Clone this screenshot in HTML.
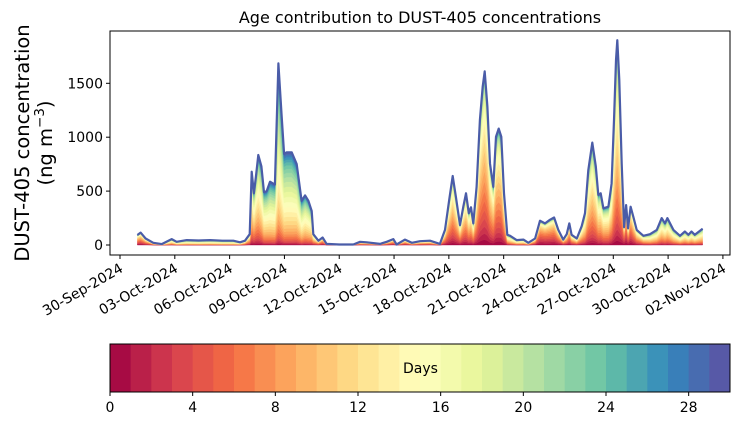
<!DOCTYPE html>
<html><head><meta charset="utf-8"><style>
body{margin:0;background:#fff;width:739px;height:425px;overflow:hidden}
svg text{font-family:"DejaVu Sans","Liberation Sans",sans-serif;fill:#000}
</style></head><body>
<svg id="chart" width="739" height="425" viewBox="0 0 739 425" xmlns="http://www.w3.org/2000/svg">
<text x="420" y="23" font-size="16" text-anchor="middle">Age contribution to DUST-405 concentrations</text>
<g>
<text x="29" y="143" font-size="19.5" text-anchor="middle" transform="rotate(-90 29 143)">DUST-405 concentration</text>
<text x="52" y="143" font-size="19.5" text-anchor="middle" transform="rotate(-90 52 143)">(ng m<tspan baseline-shift="super" font-size="13.5">−3</tspan>)</text>
</g>
<g id="layers"></g>
<g id="axes"></g>
<g id="cbar"></g>
</svg>
<script>
// time in days since 30-Sep-2024 00:00
const times = [0.95,1.13,1.40,1.82,2.28,2.83,3.10,3.65,4.30,4.93,5.60,6.20,6.57,6.84,7.10,7.21,7.33,7.44,7.57,7.74,7.88,8.03,8.21,8.48,8.67,8.85,8.98,9.12,9.40,9.67,9.94,10.13,10.31,10.49,10.58,10.86,11.09,11.31,12.00,12.77,13.14,13.50,14.23,14.60,14.96,15.14,15.60,15.97,16.42,16.97,17.51,17.79,18.02,18.21,18.39,18.61,18.79,18.94,19.09,19.21,19.34,19.52,19.70,19.85,19.96,20.11,20.25,20.43,20.58,20.73,20.87,21.02,21.20,21.35,21.71,22.08,22.35,22.72,22.99,23.26,23.54,23.76,23.99,24.26,24.45,24.59,24.72,25.00,25.27,25.45,25.63,25.85,26.04,26.18,26.31,26.46,26.73,26.91,27.04,27.15,27.22,27.33,27.46,27.59,27.70,27.81,27.95,28.10,28.28,28.65,29.01,29.38,29.65,29.83,29.96,30.29,30.65,30.92,31.11,31.28,31.46,31.89];
const totals = [93,115,60,20,8,55,30,45,42,45,40,40,25,40,100,680,480,634,835,730,490,500,587,560,1685,1190,845,860,860,750,410,460,410,315,100,40,70,10,5,5,30,25,10,30,55,5,50,20,35,40,10,140,418,640,440,185,355,480,295,350,200,540,1160,1470,1610,1285,755,540,1005,1080,1005,480,95,85,45,50,20,60,225,200,235,255,140,50,100,200,95,60,175,295,695,950,730,465,480,340,355,570,1160,1715,1900,1530,755,165,370,155,355,260,140,85,100,140,250,200,250,140,85,125,95,125,95,150];
const meanAge = [6,6,7,10,12,13,14,15,15,15,15,15,13,10,9,12,12,12,13,14,15,15,16,16,17,17,17,17,17,16,16,15,15,14,10,8,6,6,8,8,8,8,7,7,6,6,7,8,8,8,8,8,9,9,9,8,8,9,9,9,9,9,9,9,9,9,9,9,9,9,9,9,11,12,12,12,10,6,4,4,5,5,5,6,7,7,8,9,10,11,11,11,11,11,11,11,11,11,11,11,11,11,9,4,4,5,5,7,8,10,12,12,12,12,12,12,12,12,12,12,12,12];
const yTicks = [0,500,1000,1500];
const xTickDays = [0,3,6,9,12,15,18,21,24,27,30,33];
const xTickLabels = ["30-Sep-2024","03-Oct-2024","06-Oct-2024","09-Oct-2024","12-Oct-2024","15-Oct-2024","18-Oct-2024","21-Oct-2024","24-Oct-2024","27-Oct-2024","30-Oct-2024","02-Nov-2024"];
const cbTicks = [0,4,8,12,16,20,24,28];

const NS="http://www.w3.org/2000/svg";
const PL=110,PR=730,PT=31,PB=255;
const X=d=>120+d*18.27;
const Y=v=>245-v*0.1078;
const stops=["#9e0142","#d53e4f","#f46d43","#fdae61","#fee08b","#ffffbf","#e6f598","#abdda4","#66c2a5","#3288bd","#5e4fa2"];
function hex(h){return [1,3,5].map(i=>parseInt(h.substr(i,2),16));}
function spectral(t){const p=t*10,i=Math.min(9,Math.floor(p)),f=p-i;const a=hex(stops[i]),b=hex(stops[i+1]);return "rgb("+a.map((c,k)=>Math.round(c+(b[k]-c)*f)).join(",")+")";}
function mk(tag,attrs,parent){const e=document.createElementNS(NS,tag);for(const k in attrs)e.setAttribute(k,attrs[k]);parent.appendChild(e);return e;}
const NB=30;
const fr=totals.map((t,i)=>{const m=meanAge[i];const w=[];let s=0;for(let k=0;k<NB;k++){const z=(k+0.5-m)/7;const v=Math.exp(-z*z/2)+0.08;w.push(v);s+=v;}return w.map(v=>v/s);});
const layers=document.getElementById('layers');
let cum=totals.map(()=>0);
for(let k=0;k<NB;k++){
  const low=cum.slice();const up=cum.map((c,i)=>c+totals[i]*fr[i][k]);
  let d="M"+times.map((t,i)=>X(t).toFixed(1)+","+Y(up[i]).toFixed(1)).join("L");
  for(let i=times.length-1;i>=0;i--)d+="L"+X(times[i]).toFixed(1)+","+Y(low[i]).toFixed(1);
  const p=mk('path',{d:d+"Z",fill:spectral((k+0.5)/NB),stroke:spectral((k+0.5)/NB),'stroke-width':0.4},layers);
  
  
  cum=up;
}
const line=mk('polyline',{points:times.map((t,i)=>X(t).toFixed(1)+","+Y(totals[i]).toFixed(1)).join(" "),fill:"none",stroke:"#4a5ca8","stroke-width":2.2,"stroke-linejoin":"round"},layers);



const ax=document.getElementById('axes');
const fr0=mk('rect',{x:PL,y:PT,width:PR-PL,height:PB-PT,fill:"none",stroke:"#000","stroke-width":1},ax);


yTicks.forEach(v=>{
  mk('line',{x1:PL-4,x2:PL,y1:Y(v),y2:Y(v),stroke:"#000"},ax);
  const t=mk('text',{x:PL-7,y:Y(v)+5,'font-size':14,'text-anchor':'end'},ax);t.textContent=v;
  
  
});
xTickDays.forEach((d,i)=>{
  const x=X(d);
  mk('line',{x1:x,x2:x,y1:PB,y2:PB+4,stroke:"#000"},ax);
  const t=mk('text',{x:x+4,y:PB+16,'font-size':14,'text-anchor':'end',transform:`rotate(-30 ${x+4} ${PB+16})`},ax);t.textContent=xTickLabels[i];
  
  
});
const cb=document.getElementById('cbar');
const CL=110,CR=730,CT=344,CB=392,cw=(CR-CL)/NB;
for(let k=0;k<NB;k++){const r=mk('rect',{x:CL+k*cw,y:CT,width:cw+0.5,height:CB-CT,fill:spectral((k+0.5)/NB)},cb);
  
  }
mk('rect',{x:CL,y:CT,width:CR-CL,height:CB-CT,fill:"none",stroke:"#000"},cb);
cbTicks.forEach(v=>{const x=CL+v*cw;mk('line',{x1:x,x2:x,y1:CB,y2:CB+4,stroke:"#000"},cb);
  const t=mk('text',{x:x,y:CB+20,'font-size':14,'text-anchor':'middle'},cb);t.textContent=v;
  
  });
const dl=mk('text',{x:403,y:373,'font-size':14},cb);dl.textContent="Days";


</script>
</body></html>
